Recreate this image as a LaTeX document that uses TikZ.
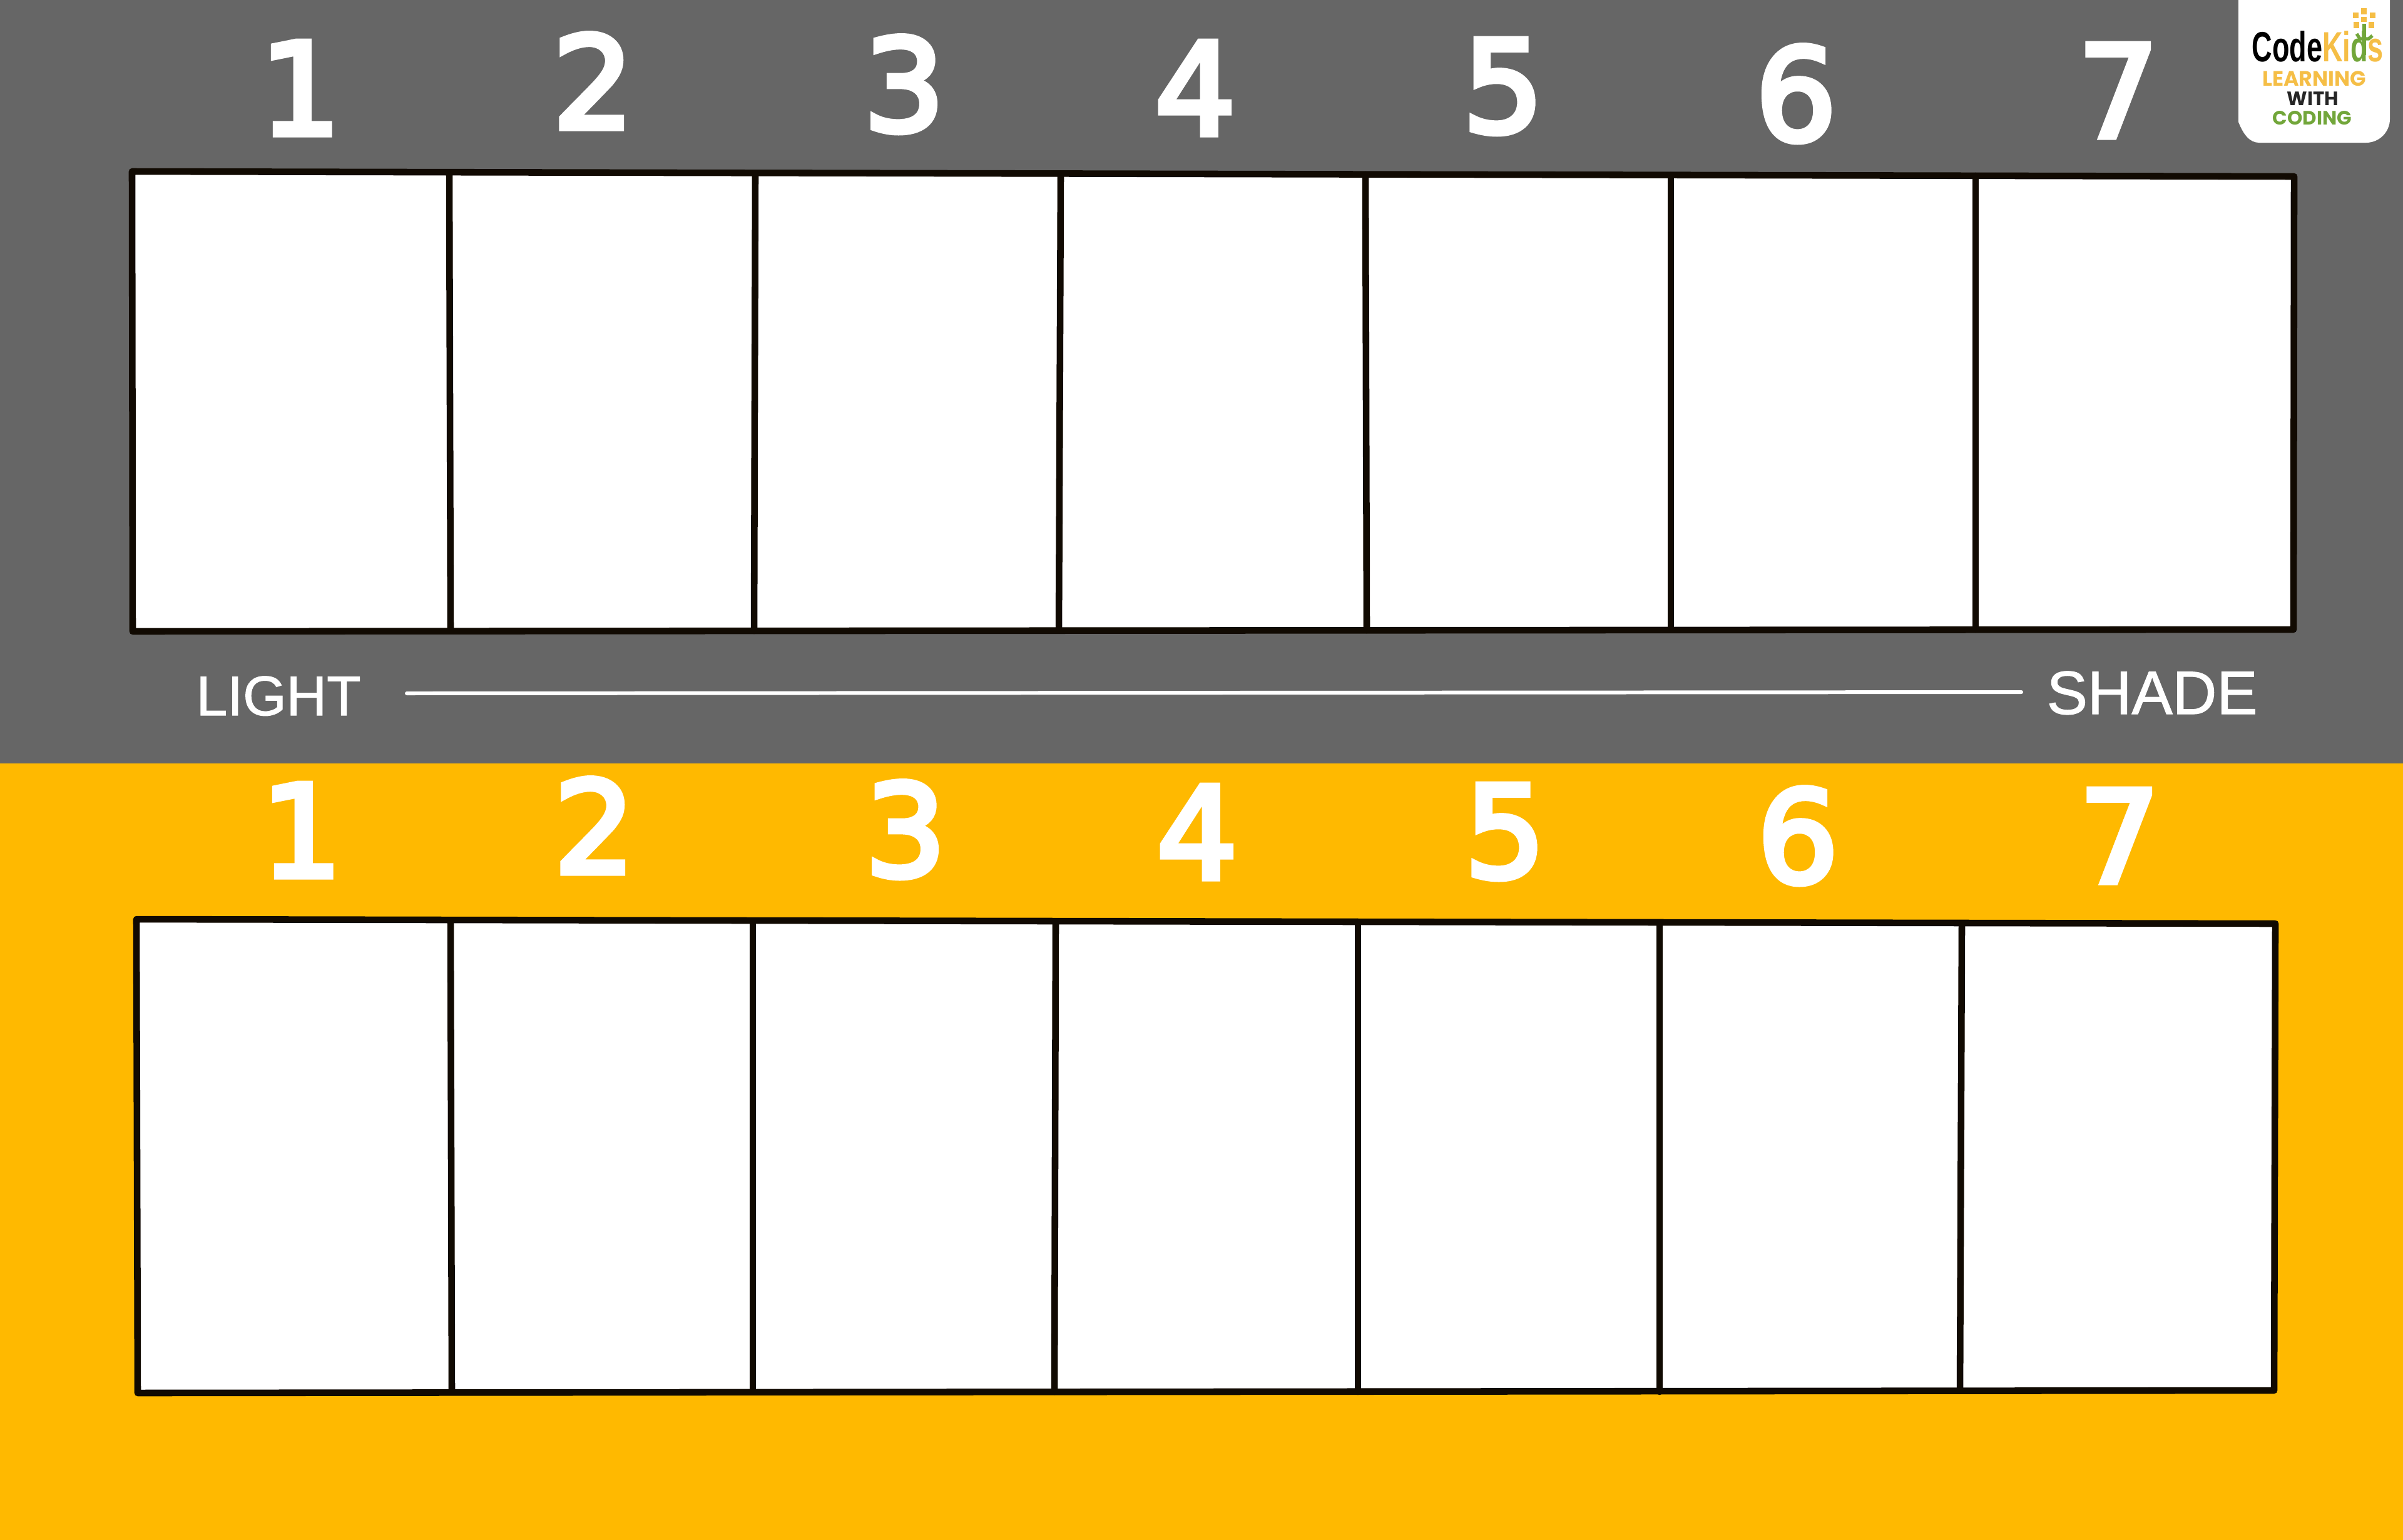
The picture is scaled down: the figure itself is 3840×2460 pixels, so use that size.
\documentclass[tikz,border=0pt]{standalone}
\usepackage{fontspec}
\setmainfont{Liberation Sans}
\newfontfamily\digitfont[FakeBold=4.5]{DejaVu Sans}
\newfontfamily\labelfont[FakeBold=1.2]{Liberation Sans}
\newfontfamily\logofont{Poppins}
\usepackage{tikz}
\definecolor{bargrey}{HTML}{666666}
\definecolor{baryellow}{HTML}{FFB900}
\definecolor{cellline}{HTML}{110A02}
\definecolor{logoyellow}{HTML}{F5BE46}
\definecolor{logogreen}{HTML}{72A63A}
\definecolor{logodark}{HTML}{262626}
\tikzstyle{digit}=[text=white, inner sep=0pt, anchor=base, font=\digitfont\fontsize{58}{58}\selectfont]
\tikzstyle{endlabel}=[text=white, inner sep=0pt, anchor=base west, font=\labelfont\fontsize{25.4}{27}\selectfont]
\tikzstyle{cell}=[draw=cellline, line width=3pt, line cap=round, line join=round]
\tikzstyle{logotext}=[inner sep=0pt, anchor=base, font=\logofont\bfseries\fontsize{8.8}{9}\selectfont]

\begin{document}
\begin{tikzpicture}[x=0.01cm, y=-0.01cm]
        \useasboundingbox (0, 0) rectangle (3840, 2460);
        \fill[bargrey] (-5, -5) rectangle (3845, 1220);
        \fill[baryellow] (-5, 1220) rectangle (3845, 2465);
        % logo
        \fill[white] (3577, 0) -- (3819, 0) -- (3819, 190) arc (0:90:38) -- (3610, 228) .. controls (3595, 228) and (3585, 215) .. (3577, 195) -- cycle;
        \node[inner sep=0pt, anchor=base west, font=\bfseries\fontsize{12.8}{14}\selectfont] (L0) at (3598, 98) {\scalebox{1}[1.5]{\textcolor{black}{Code}\textcolor{logoyellow}{Ki}\textcolor{logogreen}{d}\textcolor{logoyellow}{s}}};
        \node[logotext, text=logoyellow, font=\logofont\bfseries\fontsize{9.5}{9}\selectfont] (L1) at (3698, 137) {LEARNING};
        \node[logotext, text=logodark]   (L2) at (3696, 168) {WITH};
        \node[logotext, text=logogreen]  (L3) at (3695, 199) {CODING};
        \draw[logogreen, line width=1.7pt] (3778, 38) -- (3778, 88);
        \draw[logogreen, line width=1.5pt] (3766, 54) -- (3771, 62) -- (3785, 62) -- (3791, 57);
        \fill[logoyellow] (3773, 13) rectangle (3782, 23);
        \fill[logoyellow] (3773, 27) rectangle (3782, 35);
        \fill[logoyellow] (3760, 20) rectangle (3769, 29);
        \fill[logoyellow] (3787, 20) rectangle (3796, 29);
        \fill[logoyellow] (3761, 35) rectangle (3770, 45);
        \fill[logoyellow] (3785, 35) rectangle (3794, 45);
        % top panel
        \coordinate (A0) at (211, 274);
        \coordinate (A1) at (718, 276);
        \coordinate (A2) at (1207, 278);
        \coordinate (A3) at (1695, 278);
        \coordinate (A4) at (2182, 279);
        \coordinate (A5) at (2670, 280);
        \coordinate (A6) at (3157, 281);
        \coordinate (A7) at (3666, 282);
        \coordinate (B0) at (212, 1009);
        \coordinate (B1) at (720, 1008);
        \coordinate (B2) at (1205, 1008);
        \coordinate (B3) at (1692, 1007);
        \coordinate (B4) at (2184, 1007);
        \coordinate (B5) at (2670, 1006);
        \coordinate (B6) at (3157, 1006);
        \coordinate (B7) at (3665, 1006);
        \draw[cell, fill=white] (A0) -- (A7) -- (B7) -- (B0) -- cycle;
        \draw[cell] (A1) -- (B1);
        \draw[cell] (A2) -- (B2);
        \draw[cell] (A3) -- (B3);
        \draw[cell] (A4) -- (B4);
        \draw[cell] (A5) -- (B5);
        \draw[cell] (A6) -- (B6);
        % bottom panel
        \coordinate (C0) at (218, 1469);
        \coordinate (C1) at (720, 1471);
        \coordinate (C2) at (1203, 1472);
        \coordinate (C3) at (1687, 1473);
        \coordinate (C4) at (2170, 1473);
        \coordinate (C5) at (2652, 1475);
        \coordinate (C6) at (3135, 1476);
        \coordinate (C7) at (3636, 1476);
        \coordinate (D0) at (220, 2226);
        \coordinate (D1) at (722, 2224);
        \coordinate (D2) at (1203, 2224);
        \coordinate (D3) at (1685, 2224);
        \coordinate (D4) at (2170, 2224);
        \coordinate (D5) at (2652, 2224);
        \coordinate (D6) at (3132, 2222);
        \coordinate (D7) at (3634, 2222);
        \draw[cell, fill=white] (C0) -- (C7) -- (D7) -- (D0) -- cycle;
        \draw[cell] (C1) -- (D1);
        \draw[cell] (C2) -- (D2);
        \draw[cell] (C3) -- (D3);
        \draw[cell] (C4) -- (D4);
        \draw[cell] (C5) -- (D5);
        \draw[cell] (C6) -- (D6);
        % digits
        \node[digit] (T1) at (480, 215) {1};
        \node[digit] (T2) at (948, 205) {2};
        \node[digit] (T3) at (1445, 209) {3};
        \node[digit] (T4) at (1910, 215) {4};
        \node[digit] (T5) at (2402, 211) {5};
        \node[digit] (T6) at (2870, 224) {6};
        \node[digit] (T7) at (3385, 219) {7};
        \node[digit] (U1) at (482, 1401) {1};
        \node[digit] (U2) at (950, 1395) {2};
        \node[digit] (U3) at (1447, 1400) {3};
        \node[digit] (U4) at (1913, 1404) {4};
        \node[digit] (U5) at (2405, 1402) {5};
        \node[digit] (U6) at (2873, 1410) {6};
        \node[digit] (U7) at (3387, 1410) {7};
        % scale line
        \node[endlabel] (LG) at (313, 1143) {LIGHT};
        \node[endlabel, font=\labelfont\fontsize{27.8}{27}\selectfont] (SH) at (3270, 1141) {SHADE};
        \coordinate (S0) at (650, 1108);
        \coordinate (S1) at (3230, 1106);
        \draw[white, line width=1.7pt, line cap=round] (S0) -- (S1);
\end{tikzpicture}
\end{document}
